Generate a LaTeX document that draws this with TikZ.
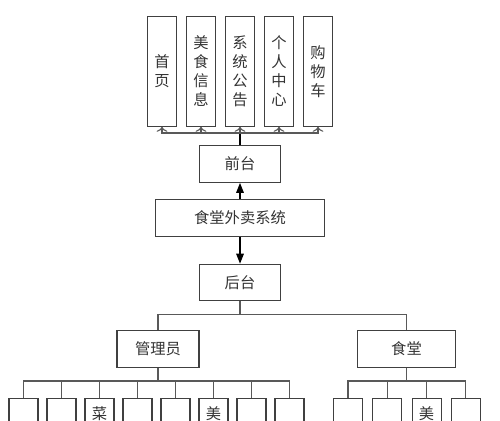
\documentclass[tikz,border=0pt]{standalone}
\usepackage{fontspec}
\newfontfamily\cjk{Noto Sans CJK SC}
\usetikzlibrary{arrows.meta}

\begin{document}
\begin{tikzpicture}[x=0.02cm,y=-0.02cm,
    colbox/.style={draw=black!75,line width=0.6pt,minimum width=0.58cm,minimum height=2.19cm,inner sep=0pt,align=center,font=\cjk\fontsize{8.7}{10.8}\selectfont},
    rowbox/.style={draw=black!75,line width=0.6pt,minimum height=0.73cm,inner sep=0pt,font=\cjk\fontsize{8.7}{10.8}\selectfont},
    leaftext/.style={inner sep=0pt,font=\cjk\fontsize{8.7}{10.8}\selectfont},
    bus/.style={draw=black!65,line width=0.6pt},
    every node/.style={text=black!80}]
                        \useasboundingbox (0,0) rectangle (500,420);
                        \clip (0,0) rectangle (500,420);

                        \node[colbox] (home) at (162,71.4) {首\\页};
                        \node[colbox] (food) at (201,71.4) {美\\食\\信\\息};
                        \node[colbox] (notice) at (240,71.4) {系\\统\\公\\告};
                        \node[colbox] (user) at (279,71.4) {个\\人\\中\\心};
                        \node[colbox] (cart) at (318,71.4) {购\\物\\车};

                        \node[rowbox,minimum width=1.63cm] (front) at (240,164) {前台};
                        \node[rowbox,minimum width=3.37cm] (sys) at (240,218) {食堂外卖系统};
                        \node[rowbox,minimum width=1.63cm] (back) at (240,282.5) {后台};
                        \node[rowbox,minimum width=1.64cm] (admin) at (158,349) {管理员};
                        \node[rowbox,minimum width=1.97cm] (canteen) at (406.5,349) {食堂};

                        \foreach \i in {1,...,8}
                            \node[colbox,anchor=north] (a\i) at ({23.5+38*(\i-1)},397.5) {};
                        \foreach \i in {1,...,4}
                            \node[colbox,anchor=north] (c\i) at ({348+39.3*(\i-1)},397.5) {};
                        \node[leaftext] (dish) at (99.5,414) {菜};
                        \node[leaftext] (adminfood) at (213.5,414) {美};
                        \node[leaftext] (canteenfood) at (426.6,414) {美};

                        \coordinate (topbus) at (240,133);
                        \draw[line width=1pt] (front) -- (topbus);
                        \foreach \n in {home,food,notice,user,cart}
                            \draw[bus,->] (topbus) -| (\n.south);

                        \draw[line width=0.8pt,-{Triangle[length=0.2cm,width=0.15cm]}] (sys) -- (front);
                        \draw[line width=0.8pt,-{Triangle[length=0.2cm,width=0.15cm]}] (sys) -- (back);

                        \coordinate (backbus) at (240,314.3);
                        \draw[bus] (back) -- (backbus);
                        \draw[bus] (backbus) -| (admin.north);
                        \draw[bus] (backbus) -| (canteen.north);

                        \coordinate (adminbus) at (158,381);
                        \draw[bus] (admin) -- (adminbus);
                        \foreach \i in {1,...,8}
                            \draw[bus] (adminbus) -| (a\i.north);

                        \coordinate (canteenbus) at (406.5,381);
                        \draw[bus] (canteen) -- (canteenbus);
                        \foreach \i in {1,...,4}
                            \draw[bus] (canteenbus) -| (c\i.north);
                    \end{tikzpicture}
\end{document}
